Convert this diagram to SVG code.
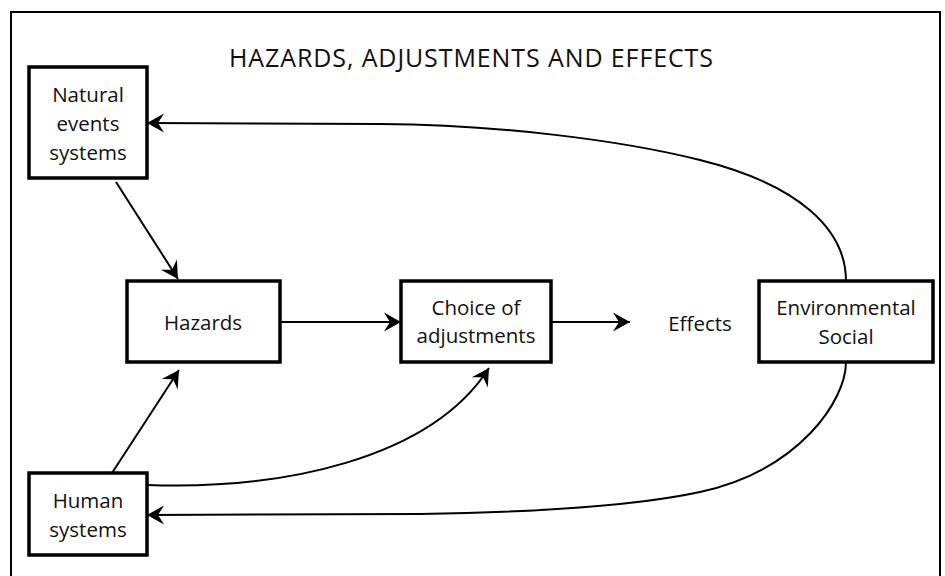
<svg xmlns="http://www.w3.org/2000/svg" width="945" height="576" viewBox="0 0 945 576">
<defs>
<style>
.box{fill:#fff;stroke:#000;stroke-width:3.5}
.t{font-family:"Open Sans","Liberation Sans",sans-serif;font-size:20.5px;fill:#111;text-anchor:middle}
.title{font-family:"Open Sans","Liberation Sans",sans-serif;font-size:25px;fill:#111;text-anchor:middle}
.c{fill:none;stroke:#000;stroke-width:2}
</style>
<marker id="ah" markerUnits="userSpaceOnUse" markerWidth="20" markerHeight="20" viewBox="-18 -10 20 20" refX="0" refY="0" orient="auto">
<path d="M0,0 L-17,-9.5 L-11,0 L-17,9.5 Z" fill="#000"/>
</marker>
</defs>
<rect x="0" y="0" width="945" height="576" fill="#fff"/>
<path d="M11,580 L11,12 L940,12 L940,580" fill="none" stroke="#000" stroke-width="2"/>
<text class="title" x="471" y="67" textLength="484">HAZARDS, ADJUSTMENTS AND EFFECTS</text>
<g id="connectors">
<path class="c" d="M116,182 L178,279" marker-end="url(#ah)"/>
<path class="c" d="M280,322 L401,322" marker-end="url(#ah)"/>
<path class="c" d="M551,322 L630,322" marker-end="url(#ah)"/>
<path class="c" d="M112,473 L179,370" marker-end="url(#ah)"/>
<path class="c" d="M147,485 C280,490 430,460 489,368" marker-end="url(#ah)"/>
<path class="c" d="M846,281 C846,230 800,185 700,160 C620,140 500,125 380,124 L147,123" marker-end="url(#ah)"/>
<path class="c" d="M846,362 C846,400 800,470 700,492 C640,505 550,512 420,514 L147,515" marker-end="url(#ah)"/>
</g>
<g id="natural">
<rect class="box" x="29" y="67" width="118" height="111"/>
<text class="t" x="88" y="102">Natural</text>
<text class="t" x="88" y="131">events</text>
<text class="t" x="88" y="160">systems</text>
</g>
<g id="hazards">
<rect class="box" x="127" y="281" width="153" height="81"/>
<text class="t" x="203" y="330">Hazards</text>
</g>
<g id="choice">
<rect class="box" x="401" y="281" width="150" height="81"/>
<text class="t" x="476" y="315">Choice of</text>
<text class="t" x="476" y="343">adjustments</text>
</g>
<g id="effects">
<text class="t" x="700" y="331">Effects</text>
</g>
<g id="environmental">
<rect class="box" x="759" y="281" width="174" height="81"/>
<text class="t" x="846" y="315">Environmental</text>
<text class="t" x="846" y="344">Social</text>
</g>
<g id="human">
<rect class="box" x="29" y="473" width="118" height="82"/>
<text class="t" x="88" y="508">Human</text>
<text class="t" x="88" y="537">systems</text>
</g>
</svg>
